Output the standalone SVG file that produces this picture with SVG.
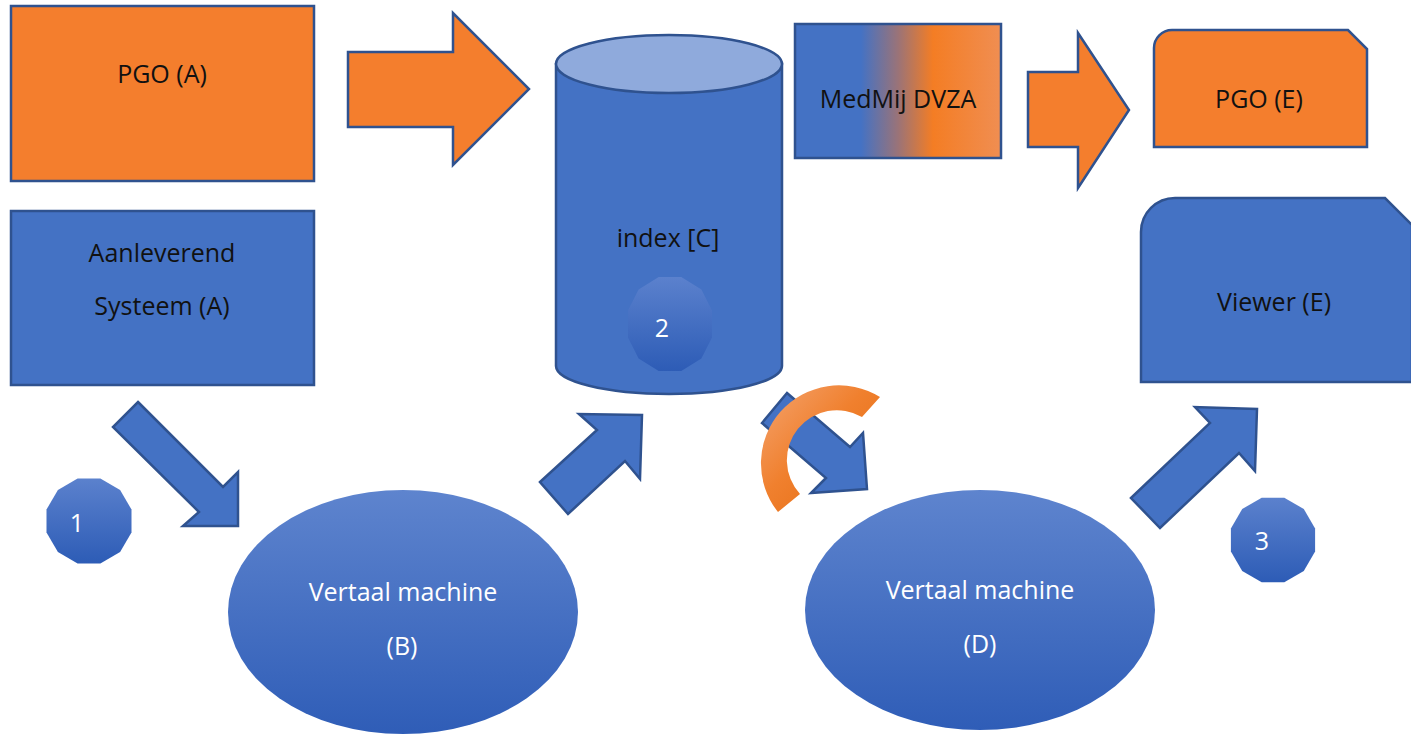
<svg xmlns="http://www.w3.org/2000/svg" width="1411" height="734" viewBox="0 0 1411 734">
  <style>
    .blue { fill: #4472C4; stroke: #2F528F; stroke-width: 2.5; stroke-linejoin: miter; }
    .orange { fill: #F47E2D; stroke: #2F528F; stroke-width: 2.5; stroke-linejoin: miter; }
    .lbl { font-family: "Open Sans", "Noto Sans", sans-serif; font-size: 25px; fill: #111; text-anchor: middle; }
    .wlbl { font-family: "Open Sans", "Noto Sans", sans-serif; font-size: 25px; fill: #FFFFFF; text-anchor: middle; }
    .badge { fill: url(#badgeGrad); }
    .oval { fill: url(#ovalGrad); }
  </style>
  <defs>
    <linearGradient id="badgeGrad" x1="0" y1="0" x2="0" y2="1">
      <stop offset="0" stop-color="#5B81CD"/>
      <stop offset="1" stop-color="#2D5CB6"/>
    </linearGradient>
    <linearGradient id="ovalGrad" x1="0" y1="0" x2="0" y2="1">
      <stop offset="0" stop-color="#5E84CE"/>
      <stop offset="1" stop-color="#2F5DB7"/>
    </linearGradient>
    <linearGradient id="dvzaGrad" x1="0" y1="0" x2="1" y2="0">
      <stop offset="0" stop-color="#4472C4"/>
      <stop offset="0.32" stop-color="#4472C4"/>
      <stop offset="0.5" stop-color="#9A7378"/>
      <stop offset="0.67" stop-color="#F47D24"/>
      <stop offset="1" stop-color="#F08E52"/>
    </linearGradient>
    <linearGradient id="arcGrad" x1="0" y1="0" x2="1" y2="1">
      <stop offset="0" stop-color="#F4A470"/>
      <stop offset="0.45" stop-color="#F0802E"/>
      <stop offset="1" stop-color="#E2680C"/>
    </linearGradient>
  </defs>

  <!-- source systems -->
  <g id="pgo-a">
    <rect class="orange" x="11" y="6" width="303" height="175"/>
    <text class="lbl" x="162" y="83">PGO (A)</text>
  </g>
  <g id="aanleverend-systeem">
    <rect class="blue" x="11" y="211" width="303" height="174"/>
    <text class="lbl" x="162" y="262">Aanleverend</text>
    <text class="lbl" x="162" y="315">Systeem (A)</text>
  </g>

  <!-- index store -->
  <g id="index-c">
    <path class="blue" d="M556,64 L556,366 A113,28 0 0 0 782,366 L782,64 Z"/>
    <ellipse cx="669" cy="64" rx="113" ry="29" fill="#8FAADC" stroke="#2F528F" stroke-width="2.5"/>
    <text class="lbl" x="668" y="247">index [C]</text>
  </g>

  <g id="medmij-dvza">
    <rect x="795" y="24" width="206" height="134" fill="url(#dvzaGrad)" stroke="#2F528F" stroke-width="2.5"/>
    <text class="lbl" x="898" y="108">MedMij DVZA</text>
  </g>

  <!-- receiving side -->
  <g id="pgo-e">
    <path class="orange" d="M1172,30 L1348,30 L1367,49 L1367,147 L1154,147 L1154,48 A18,18 0 0 1 1172,30 Z"/>
    <text class="lbl" x="1259" y="108">PGO (E)</text>
  </g>
  <g id="viewer-e">
    <path class="blue" d="M1175,198 L1385,198 L1412,225 L1412,382 L1141,382 L1141,232 A34,34 0 0 1 1175,198 Z"/>
    <text class="lbl" x="1274" y="311">Viewer (E)</text>
  </g>

  <!-- translation machines -->
  <g id="vertaal-b">
    <ellipse class="oval" cx="403" cy="612" rx="175" ry="122"/>
    <text class="wlbl" x="403" y="601">Vertaal machine</text>
    <text class="wlbl" x="402" y="655">(B)</text>
  </g>
  <g id="vertaal-d">
    <ellipse class="oval" cx="980" cy="610" rx="175" ry="120"/>
    <text class="wlbl" x="980" y="599">Vertaal machine</text>
    <text class="wlbl" x="980" y="653">(D)</text>
  </g>

  <!-- step badges -->
  <g id="step-1">
    <polygon class="badge" points="100.4,478.5 120.1,489.9 131.5,509.6 131.5,532.4 120.1,552.1 100.4,563.5 77.6,563.5 57.9,552.1 46.5,532.4 46.5,509.6 57.9,489.9 77.6,478.5"/>
    <text class="wlbl" x="77" y="532">1</text>
  </g>
  <g id="step-2">
    <polygon class="badge" points="681.3,277 701.4,289.6 712,310.5 712,337.5 701.4,358.4 681.3,371 658.7,371 638.6,358.4 628,337.5 628,310.5 638.6,289.6 658.7,277"/>
    <text class="wlbl" x="662" y="337">2</text>
  </g>
  <g id="step-3">
    <polygon class="badge" points="1284.3,497.8 1303.8,509.1 1315.1,528.6 1315.1,551.4 1303.8,570.9 1284.3,582.2 1261.7,582.2 1242.2,570.9 1230.9,551.4 1230.9,528.6 1242.2,509.1 1261.7,497.8"/>
    <text class="wlbl" x="1262" y="550">3</text>
  </g>

  <!-- connectors -->
  <g id="connectors">
    <polygon class="orange" points="348,52 453,52 453,13 529,89 453,165 453,127 348,127"/>
    <polygon class="orange" points="1028,72 1078,72 1078,33 1129,110 1078,188 1078,147 1028,147"/>
    <polygon class="blue" points="138,402 223,487 238,472 238,526 183,526 199,512 113,427"/>
    <polygon class="blue" points="540,482 597,430 579,414 642,415 640,479 625,461 568,514"/>
    <polygon class="blue" points="787,393 850,447 863,433 867,489 811,493 826,478 762,423"/>
    <polygon class="blue" points="1131,498 1210,423 1195,407 1257,409 1255,471 1239,453 1160,528"/>
    <!-- orange block arc drawn over the third arrow -->
    <path fill="url(#arcGrad)" d="M880,397 A78,78 0 0 0 778,512 L800,494 A50,50 0 0 1 862,417 Z"/>
  </g>
</svg>
